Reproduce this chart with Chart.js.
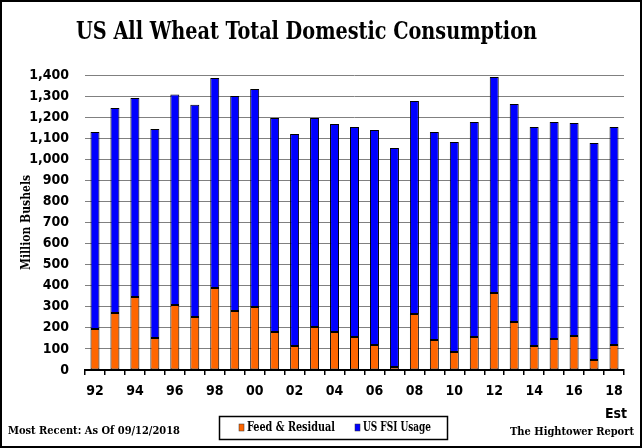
<!DOCTYPE html>
<html>
<head>
<meta charset="utf-8">
<script src="https://cdn.jsdelivr.net/npm/chart.js@4.4.1/dist/chart.umd.min.js"></script>
<style>
  html, body { margin: 0; padding: 0; background: #fff; }
</style>
</head>
<body>
<canvas id="wheatChart" width="642" height="448"></canvas>
<script>
// crop years 1992 - 2018 (2018 is an estimate)
const years = ["92", "93", "94", "95", "96", "97", "98", "99", "00", "01", "02", "03", "04", "05",
    "06", "07", "08", "09", "10", "11", "12", "13", "14", "15", "16", "17", "18"];
// million bushels
const feedResidual = [195, 270, 346, 152, 308, 252, 389, 280, 299, 180, 114, 204, 180, 157,
    119, 14, 266, 142, 85, 157, 365, 228, 114, 147, 161, 47, 119];
const fsiUsage = [934, 973, 945, 992, 999, 1007, 997, 1020, 1035, 1016, 1006, 992, 988, 996,
    1020, 1040, 1011, 987, 997, 1020, 1026, 1034, 1039, 1030, 1011, 1030, 1034];
const yTicks = [0, 100, 200, 300, 400, 500, 600, 700, 800, 900, 1000, 1100, 1200, 1300, 1400];

const sansBold = '"DejaVu Sans Condensed", "DejaVu Sans", sans-serif';
const serif = '"DejaVu Serif Condensed", "DejaVu Serif", serif';

const decorations = {
    id: "decorations",
    afterDraw(chart) {
        const ctx = chart.ctx;
        ctx.save();

        // outer frame
        ctx.strokeStyle = "#000";
        ctx.lineWidth = 2;
        ctx.strokeRect(1, 1, chart.width - 2, chart.height - 2);

        // title (squeezed to the width it has in the original)
        ctx.fillStyle = "#000";
        ctx.font = "bold 24px " + serif;
        ctx.textBaseline = "alphabetic";
        ctx.textAlign = "left";
        ctx.fillText("US All Wheat Total Domestic Consumption", 76, 39, 461);

        // "Est" under the last label
        const xs = chart.scales.x;
        ctx.font = "bold 14px " + sansBold;
        ctx.textAlign = "center";
        ctx.textBaseline = "middle";
        ctx.fillText("Est", xs.getPixelForValue(years.length - 1) + 2, 414);

        // footer notes
        ctx.font = "bold 11px " + serif;
        ctx.textAlign = "left";
        ctx.fillText("Most Recent: As Of 09/12/2018", 8, 431, 172);
        ctx.textAlign = "right";
        ctx.fillText("The Hightower Report", 634, 432, 124);

        // legend box
        ctx.lineWidth = 1.5;
        ctx.strokeRect(219.5, 416.5, 228, 23);
        const items = chart.data.datasets;
        const starts = [239, 355];
        const widths = [88, 68];
        ctx.font = "bold 13px " + serif;
        ctx.textAlign = "left";
        items.forEach((ds, i) => {
            const x = starts[i];
            ctx.fillStyle = ds.backgroundColor;
            ctx.fillRect(x, 424, 5, 7);
            ctx.strokeStyle = "#333";
            ctx.lineWidth = 0.5;
            ctx.strokeRect(x, 424, 5, 7);
            ctx.fillStyle = "#000";
            ctx.fillText(ds.label, x + 8, 428, widths[i]);
        });

        ctx.restore();
    }
};

new Chart(document.getElementById("wheatChart"), {
    type: "bar",
    data: {
        labels: years,
        datasets: [
            {
                label: "Feed & Residual",
                data: feedResidual,
                backgroundColor: "#FF6600",
                borderColor: "#000",
                borderWidth: 1,
                borderSkipped: false,
                barPercentage: 0.45,
                categoryPercentage: 1.0,
            },
            {
                label: "US FSI Usage",
                data: fsiUsage,
                backgroundColor: "#0000FF",
                borderColor: "#000",
                borderWidth: 1,
                borderSkipped: false,
                barPercentage: 0.45,
                categoryPercentage: 1.0,
            },
        ],
    },
    options: {
        responsive: false,
        animation: false,
        layout: { padding: { top: 75, right: 18, bottom: 0, left: 0 } },
        plugins: {
            legend: { display: false },
            tooltip: { enabled: false },
        },
        scales: {
            x: {
                stacked: true,
                grid: {
                    drawOnChartArea: false,
                    drawTicks: true,
                    tickLength: 5,
                    color: "#000",
                    lineWidth: 1.5,
                    offset: true,
                },
                border: { color: "#000", width: 2 },
                ticks: {
                    autoSkip: false,
                    maxRotation: 0,
                    padding: 8,
                    color: "#000",
                    font: { family: sansBold, size: 14, weight: "bold" },
                    callback: function (v, i) {
                        return i % 2 === 0 ? this.getLabelForValue(v) : "";
                    },
                },
                afterFit(scale) { scale.height = 78; },
            },
            y: {
                stacked: true,
                min: 0,
                max: 1400,
                afterBuildTicks(scale) {
                    scale.ticks = yTicks.map(v => ({ value: v }));
                },
                grid: { color: "#808080", lineWidth: 1, drawTicks: false },
                border: { display: false },
                ticks: {
                    padding: 16,
                    color: "#000",
                    font: { family: sansBold, size: 14, weight: "bold" },
                    callback: v => v.toLocaleString("en-US"),
                },
                title: {
                    display: true,
                    text: "Million Bushels",
                    color: "#000",
                    font: { family: serif, size: 12, weight: "bold" },
                    padding: { top: 20, bottom: 0 },
                },
                afterFit(scale) { scale.width = 85; },
            },
        },
    },
    plugins: [decorations],
});
</script>
</body>
</html>
